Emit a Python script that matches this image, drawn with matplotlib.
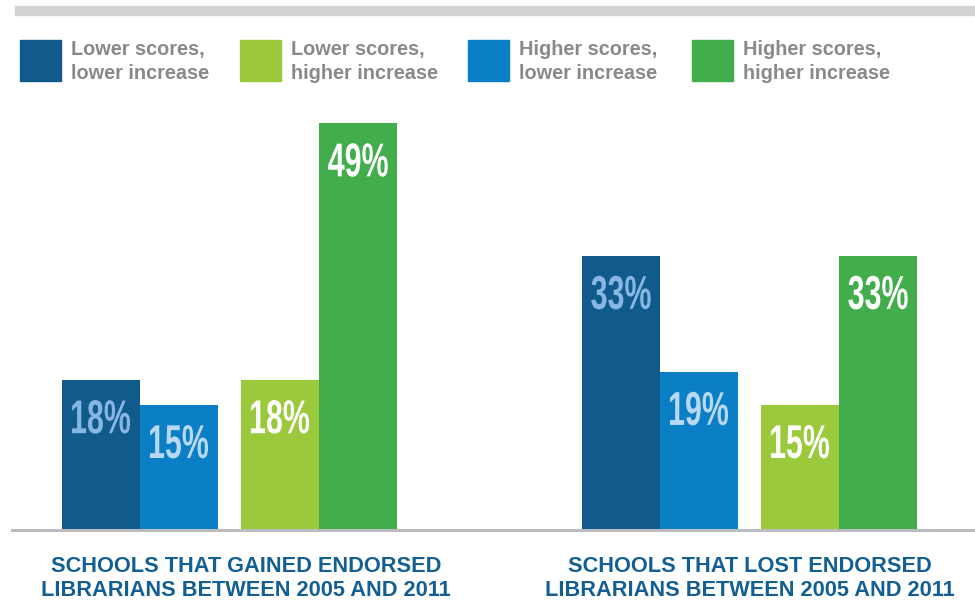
import matplotlib.pyplot as plt
from matplotlib.patches import Rectangle, PathPatch
from matplotlib.textpath import TextPath
from matplotlib.font_manager import FontProperties
from matplotlib.transforms import Affine2D, IdentityTransform
import numpy as np

# data
groups = ['SCHOOLS THAT GAINED ENDORSED\nLIBRARIANS BETWEEN 2005 AND 2011',
          'SCHOOLS THAT LOST ENDORSED\nLIBRARIANS BETWEEN 2005 AND 2011']
series = ['Lower scores,\nlower increase', 'Lower scores,\nhigher increase',
          'Higher scores,\nlower increase', 'Higher scores,\nhigher increase']
# bar order inside each group: dark blue, blue, light green, green
bar_series = [0, 2, 1, 3]
values = [
    [18, 15, 18, 49],
    [33, 19, 15, 33],
]

colors = ['#105a8c', '#9aca3c', '#0a7fc6', '#41ae4b']
label_colors = ['#88b6e2', '#ffffff', '#b8d7f0', '#ffffff']
cat_color = '#135f93'
legend_text = '#88898c'

fig = plt.figure(figsize=(9.75, 6.02), dpi=100)
W, H = 975, 602

# top gray band
fig.patches.append(Rectangle((15 / W, 1 - 15 / H), 1, 9 / H, transform=fig.transFigure,
                             color='#d1d2d4', zorder=0))

# axes: one unit = one bar width (78 px)
ax = fig.add_axes([0, 1 - 529 / H, 1, 406 / H])
bw = 78
ax.set_xlim(-62 / bw, (W - 62) / bw)
ax.set_ylim(0, 49)
ax.axis('off')

num_font = FontProperties(family='Liberation Sans', weight='bold')


def condensed_label(x, y, text, color, cap_px=34, squeeze=0.64, drop=37):
    # draw a narrow label centred at (x, top of bar - drop px)
    px, py = ax.transData.transform((x, y))
    tp = TextPath((0, 0), text, size=cap_px / 0.716, prop=num_font)
    ext = tp.get_extents()
    cx = (ext.x0 + ext.x1) / 2
    cy = (ext.y0 + ext.y1) / 2
    tr = Affine2D().translate(-cx, -cy).scale(squeeze, 1).translate(px, py - drop)
    fig.add_artist(PathPatch(tr.transform_path(tp), transform=IdentityTransform(),
                             color=color, lw=0))


offsets = [0, 1, 2.295, 3.295]
starts = [0, 6.667]
for g, vals in enumerate(values):
    for i, v in enumerate(vals):
        s = bar_series[i]
        x = starts[g] + offsets[i]
        ax.bar(x, v, width=1, align='edge', color=colors[s], linewidth=0)
        condensed_label(x + 0.5, v, f'{v}%', label_colors[s])

# baseline
fig.add_artist(plt.Line2D([12 / W, 1], [1 - 529.5 / H] * 2, transform=fig.transFigure,
                          color='#bcbdc0', lw=2.2))

# legend
leg_x = [20, 240, 468, 692]
for s, lx in enumerate(leg_x):
    fig.patches.append(Rectangle((lx / W, 1 - 81 / H), 41 / W, 41 / H,
                                 transform=fig.transFigure, color=colors[s]))
    fig.text((lx + 51) / W, 1 - 61.5 / H, series[s], ha='left', va='center',
             color=legend_text, fontsize=14.3, fontweight='bold', linespacing=1.28,
             family='Liberation Sans')

# category labels
cat_x = [246, 750]
for g, lab in enumerate(groups):
    fig.text(cat_x[g] / W, 1 - 578.5 / H, lab, ha='center', va='center',
             color=cat_color, fontsize=15.7, fontweight='bold', linespacing=1.15,
             family='Liberation Sans')

fig.savefig('out.png', dpi=100)
